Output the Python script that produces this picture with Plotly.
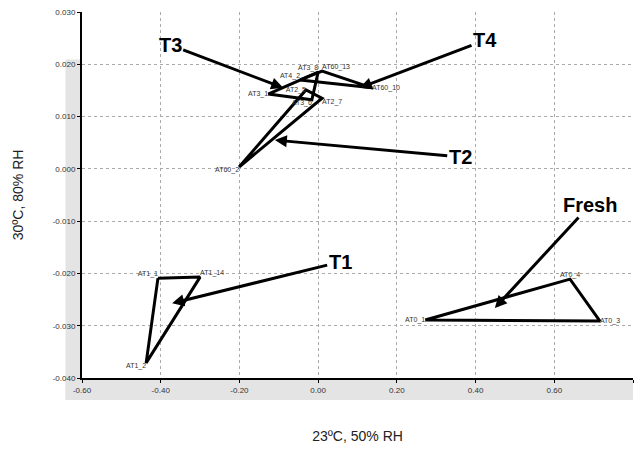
import plotly.graph_objects as go

# Sample groups plotted on the two storage-condition axes
fresh_x = [0.272, 0.640, 0.716]
fresh_y = [-0.0289, -0.0211, -0.0291]
fresh_lbl = ["AT0_1", "AT0_4", "AT0_3"]

t1_x = [-0.407, -0.300, -0.437]
t1_y = [-0.0209, -0.0207, -0.0371]
t1_lbl = ["AT1_1", "AT1_14", "AT1_2"]

t2_x = [-0.201, -0.031, 0.010]
t2_y = [0.00035, 0.0151, 0.0135]
t2_lbl = ["AT60_2", "AT2_5", "AT2_7"]

t3_x = [-0.127, 0.000, -0.016]
t3_y = [0.0143, 0.0185, 0.0132]
t3_lbl = ["AT3_1", "AT3_8", "AT3_6"]

t4_x = [-0.046, 0.010, 0.137]
t4_y = [0.0170, 0.0187, 0.0155]
t4_lbl = ["AT4_2", "AT60_13", "AT60_10"]

x_ticks = [-0.60, -0.40, -0.20, 0.00, 0.20, 0.40, 0.60, 0.80]
y_ticks = [0.030, 0.020, 0.010, 0.000, -0.010, -0.020, -0.030, -0.040]

# Callout labels: text position, arrow tip
callouts = [
    ("T3", (-0.376, 0.0237), (-0.089, 0.0155)),
    ("T4", (0.424, 0.0246), (0.106, 0.0155)),
    ("T2", (0.361, 0.0023), (-0.110, 0.0055)),
    ("T1", (0.056, -0.0178), (-0.371, -0.0257)),
    ("Fresh", (0.691, -0.0069), (0.449, -0.0266)),
]

fig = go.Figure()

groups = [
    (fresh_x, fresh_y, fresh_lbl, ["middle left", "top center", "middle right"]),
    (t1_x, t1_y, t1_lbl, ["top left", "top right", "bottom left"]),
    (t2_x, t2_y, t2_lbl, ["bottom left", "middle left", "bottom right"]),
    (t3_x, t3_y, t3_lbl, ["middle left", "top left", "bottom left"]),
    (t4_x, t4_y, t4_lbl, ["top left", "top right", "middle right"]),
]
for gx, gy, gl, pos in groups:
    fig.add_trace(go.Scatter(
        x=gx + gx[:1], y=gy + gy[:1],
        mode="lines+text",
        text=gl + [""],
        textposition=pos + ["top center"],
        textfont=dict(family="Arial", size=7, color="#333333"),
        line=dict(color="black", width=3),
        showlegend=False, hoverinfo="skip",
    ))

for txt, (tx, ty), (hx, hy) in callouts:
    fig.add_annotation(
        x=hx, y=hy, ax=tx, ay=ty, xref="x", yref="y", axref="x", ayref="y",
        text=f"<b>{txt}</b>", showarrow=True,
        arrowhead=2, arrowsize=0.8, arrowwidth=3, arrowcolor="black",
        font=dict(family="Arial", size=20, color="black"),
    )

# halftone band around the axes
band = "#e4e4e4"
fig.add_shape(type="rect", xref="paper", yref="paper",
              x0=-0.03, x1=0.0, y0=-0.06, y1=0.87,
              fillcolor=band, line_width=0, layer="below")
fig.add_shape(type="rect", xref="paper", yref="paper",
              x0=-0.03, x1=1.0, y0=-0.06, y1=0.0,
              fillcolor=band, line_width=0, layer="below")

fig.update_xaxes(
    range=[-0.6, 0.8], tickvals=x_ticks,
    ticktext=[f"{v:.2f}" for v in x_ticks],
    showline=True, linecolor="black", linewidth=2,
    ticks="outside", ticklen=3, tickcolor="black",
    showgrid=True, gridcolor="#aaaaaa", griddash="dot", gridwidth=1,
    zeroline=False,
    tickfont=dict(family="Arial Black, Arial", size=8, color="#333333"),
    title=dict(text="23ºC, 50% RH", standoff=38,
               font=dict(family="Arial", size=14, color="#222222")),
)
fig.update_yaxes(
    range=[-0.040, 0.030], tickvals=y_ticks,
    ticktext=[f"{v:.3f}" for v in y_ticks],
    showline=True, linecolor="black", linewidth=2,
    ticks="outside", ticklen=3, tickcolor="black",
    showgrid=True, gridcolor="#aaaaaa", griddash="dot", gridwidth=1,
    zeroline=False,
    tickfont=dict(family="Arial Black, Arial", size=8, color="#333333"),
    title=dict(text="30ºC, 80% RH", standoff=26,
               font=dict(family="Arial", size=14, color="#222222")),
)

fig.update_layout(
    width=636, height=450,
    margin=dict(l=82, r=3, t=12, b=72),
    paper_bgcolor="white", plot_bgcolor="white",
)

fig.write_html("out.html")
